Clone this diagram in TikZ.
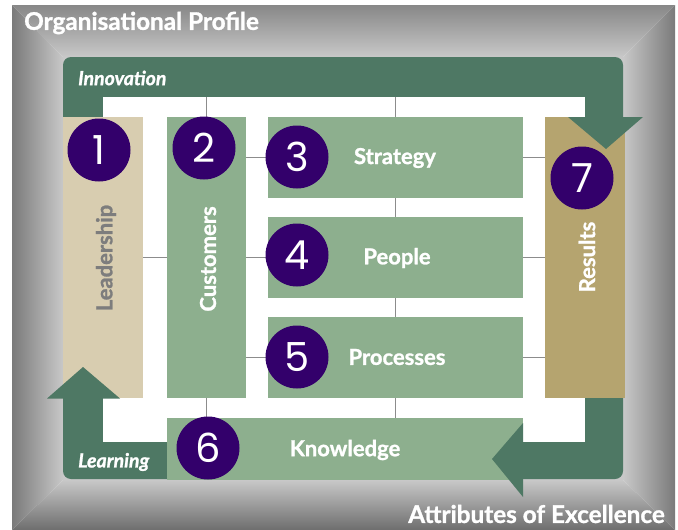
\documentclass[tikz,border=0pt]{standalone}
\usepackage{fontspec}
\setmainfont{Lato}
\newfontfamily\numfont{Poppins}
\newcommand\heavy{\bfseries\addfontfeature{FakeBold=1.2}}
\definecolor{gOut}{HTML}{7A7A7A}
\definecolor{gIn}{HTML}{C8C8C8}
\definecolor{framegreen}{HTML}{4E7864}
\definecolor{boxgreen}{HTML}{8DAF8E}
\definecolor{leadtan}{HTML}{D8CDB0}
\definecolor{restan}{HTML}{B5A46F}
\definecolor{numpurple}{HTML}{33006B}
\definecolor{linkgray}{HTML}{8C8C8C}
\definecolor{leadtext}{HTML}{7D7D7D}
\begin{document}
\begin{tikzpicture}[x=1pt,y=-1pt,
  panel/.style={draw=none, inner sep=0pt, outer sep=0pt},
  lbl/.style={inner sep=0pt, text=white, font=\fontsize{22}{22}\selectfont\heavy},
  vlbl/.style={lbl, rotate=90},
  num/.style={circle, fill=numpurple, minimum size=63pt, inner sep=0pt, text=white, font=\numfont\fontsize{40}{40}\selectfont},
  link/.style={draw=linkgray, line width=1.5pt},
  head/.style={fill=framegreen},
  ital/.style={inner sep=0pt, text=white, anchor=west, font=\fontsize{19.5}{19.5}\selectfont\itshape\heavy},
  big/.style={inner sep=0pt, text=white, font=\fontsize{24.3}{24.3}\selectfont\heavy},
]
\useasboundingbox (0,0) rectangle (678,530);
\fill[white] (0,0) rectangle (678,530);
% gray bevel frame
\fill[gIn] (63,57) rectangle (623,480);
\shade[top color=gOut!90, bottom color=gIn] (12,5) -- (675,5) -- (623,57) -- (63,57) -- cycle;
\shade[left color=gOut, right color=gIn] (12,5) -- (63,57) -- (63,480) -- (12,530) -- cycle;
\shade[left color=gIn, right color=gOut] (675,5) -- (675,530) -- (623,480) -- (623,57) -- cycle;
\shade[top color=gIn, bottom color=gOut!90!black] (12,530) -- (63,480) -- (623,480) -- (675,530) -- cycle;
% green ring
\fill[framegreen, rounded corners=8pt] (63,57) rectangle (623,479);
\node[panel, fill=white, minimum width=482pt, minimum height=345pt] (inner) at (344,269.5) {};
% boxes
\node[panel, fill=leadtan, minimum width=80pt, minimum height=281pt] (lead) at (103,257.5) {};
\node[panel, fill=boxgreen, minimum width=79pt, minimum height=281pt] (cust) at (206.5,257.5) {};
\node[panel, fill=boxgreen, minimum width=255pt, minimum height=81pt] (strat) at (395.5,157.5) {};
\node[panel, fill=boxgreen, minimum width=255pt, minimum height=81pt] (people) at (395.5,257.5) {};
\node[panel, fill=boxgreen, minimum width=255pt, minimum height=81pt] (proc) at (395.5,357.5) {};
\node[panel, fill=boxgreen, minimum width=356pt, minimum height=62pt] (know) at (345,449) {};
\node[panel, fill=restan, minimum width=80pt, minimum height=281pt] (res) at (585,257.5) {};
% connectors
\draw[link] (cust.north) -- (cust.north |- inner.north);
\draw[link] (strat.north) -- (strat.north |- inner.north);
\draw[link] (strat.south) -- (people.north);
\draw[link] (people.south) -- (proc.north);
\draw[link] (proc.south) -- (proc.south |- know.north);
\draw[link] (cust.south) -- (cust.south |- know.north);
\draw[link] (lead.east) -- (cust.west);
\draw[link] (cust.east |- strat.west) -- (strat.west);
\draw[link] (cust.east) -- (people.west);
\draw[link] (cust.east |- proc.west) -- (proc.west);
\draw[link] (strat.east) -- (strat.east -| res.west);
\draw[link] (people.east) -- (res.west);
\draw[link] (proc.east) -- (proc.east -| res.west);
% arrowheads
\fill[head] (568,117) -- (643,117) -- (606,149) -- cycle;
\fill[head] (47,398.5) -- (120,398.5) -- (83,367) -- cycle;
\fill[head] (523,423) -- (523,497) -- (492,459) -- cycle;
% labels
\node[vlbl, text=leadtext] (leadl) at (106,258) {Leadership};
\node[vlbl] (custl) at (208,259) {Customers};
\node[lbl] (stratl) at (395,158) {Strategy};
\node[lbl] (peoplel) at (397,258) {People};
\node[lbl] (procl) at (397,357) {Processes};
\node[lbl] (knowl) at (345,450) {Knowledge};
\node[vlbl] (resl) at (587,257) {Results};
\node[ital] (innov) at (78,78) {Innovation};
\node[ital] (learn) at (78,462) {Learning};
\node[big, anchor=west] (title) at (24,23) {Organisational Profile};
\node[big, anchor=east] (attr) at (665,514) {Attributes of Excellence};
% numbers
\node[num] (n1) at (99,150) {1};
\node[num] (n2) at (204,148) {2};
\node[num] (n3) at (297,157) {3};
\node[num] (n4) at (297,255) {4};
\node[num] (n5) at (297,357) {5};
\node[num] (n6) at (208,448) {6};
\node[num] (n7) at (582,178) {7};
\end{tikzpicture}
\end{document}
